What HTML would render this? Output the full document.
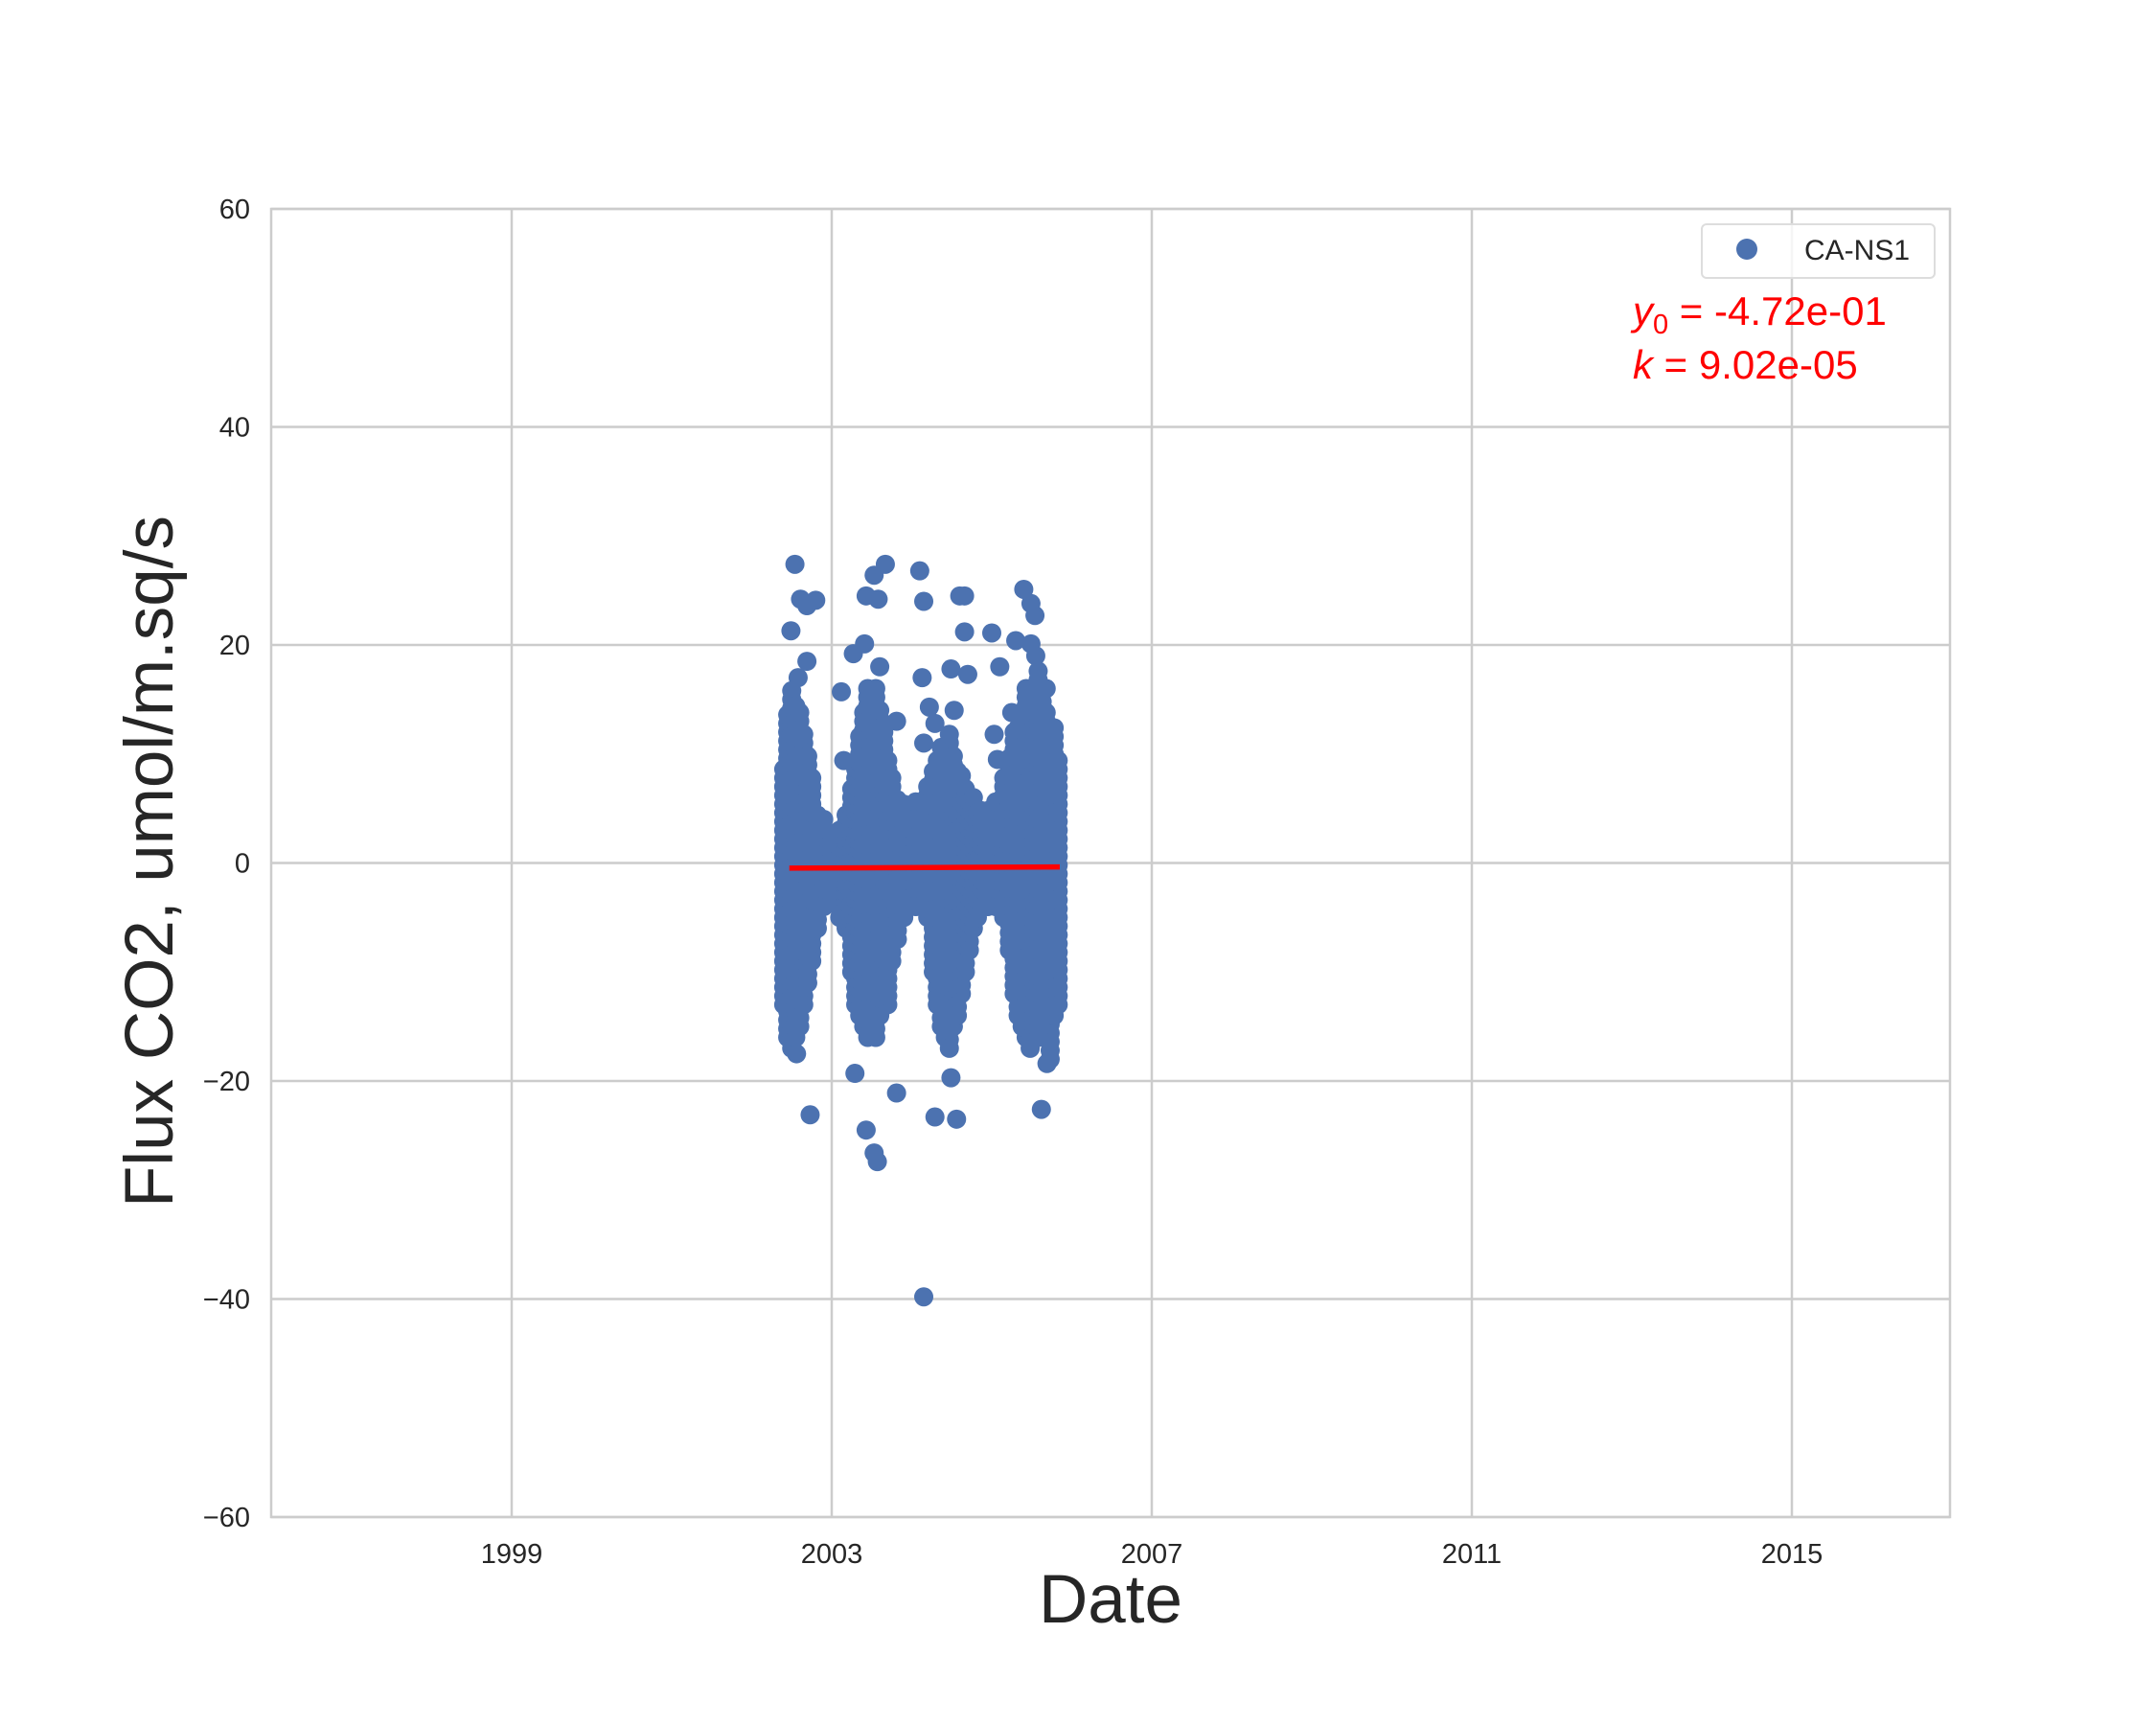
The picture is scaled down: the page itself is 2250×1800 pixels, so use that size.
<!DOCTYPE html>
<html><head><meta charset="utf-8"><style>
html,body{margin:0;padding:0;background:#fff;}
svg{display:block;font-family:"Liberation Sans",Arial,sans-serif;}
</style></head><body>
<svg id="chart" width="2250" height="1800" viewBox="0 0 2250 1800">
  <rect width="2250" height="1800" fill="#fff"/>
  <g id="grid"></g>
  <g id="ticks"></g>
  <g id="points"></g>
  <g id="fit"></g>
  <rect x="283" y="218" width="1752" height="1365" fill="none" stroke="#cccccc" stroke-width="2.5"/>
  <text x="1159" y="1693" font-size="71" fill="#262626" text-anchor="middle">Date</text>
  <text transform="translate(180,899) rotate(-90)" font-size="71" fill="#262626" text-anchor="middle">Flux CO2, umol/m.sq/s</text>
  <g>
    <rect x="1776" y="234" width="243" height="56" rx="5" fill="#fff" fill-opacity="0.8" stroke="#dddddd" stroke-width="2"/>
    <circle cx="1823" cy="260" r="11" fill="#4c72b0"/>
    <text x="1883" y="271" font-size="30" fill="#262626">CA-NS1</text>
  </g>
  <text x="1704" y="339" font-size="42" fill="#ff0000"><tspan font-style="italic">y</tspan><tspan font-size="29" dy="9">0</tspan><tspan dy="-9"> = -4.72e-01</tspan></text>
  <text x="1704" y="395" font-size="42" fill="#ff0000"><tspan font-style="italic">k</tspan> = 9.02e-05</text>
</svg>
<script>
const yTicks = [60, 40, 20, 0, -20, -40, -60];
const xTicks = [1999, 2003, 2007, 2011, 2015];
// dense band: column year, min value, max value
const colYears = [2002.40,2002.45,2002.50,2002.55,2002.60,2002.65,2002.70,2002.75,2002.82,2002.90,2003.00,2003.10,2003.18,2003.25,2003.30,2003.35,2003.40,2003.45,2003.50,2003.55,2003.60,2003.65,2003.70,2003.75,2003.82,2003.90,2003.97,2004.05,2004.12,2004.20,2004.27,2004.32,2004.37,2004.42,2004.47,2004.52,2004.57,2004.62,2004.67,2004.72,2004.77,2004.82,2004.87,2004.95,2005.05,2005.15,2005.22,2005.28,2005.33,2005.38,2005.43,2005.48,2005.53,2005.58,2005.63,2005.68,2005.73,2005.78,2005.83];
const colMin = [-13,-16,-17,-16,-15,-13,-11,-9,-6,-4,-3,-5,-6,-10,-13,-14,-15,-16,-15,-16,-14,-12,-13,-9,-7,-5,-4,-4,-4,-5,-10,-13,-15,-16,-17,-15,-14,-12,-10,-8,-6,-5,-4,-4,-4,-5,-8,-12,-14,-15,-16,-17,-15,-16,-14,-15,-18,-14,-13];
const colMax = [9,14,16,15,14,12,10,8,5,4,3,3,5,7,9,12,14,16,15,16,14,12,10,8,6,6,5,6,6,7,9,10,11,10,12,10,9,8,7,6,6,5,5,5,6,8,10,12,13,14,16,15,16,18,16,14,12,13,10];
// outliers
const outYears = [2002.54,2002.49,2002.61,2002.69,2002.80,2002.69,2003.12,2003.27,2003.41,2003.43,2003.53,2003.67,2003.58,2004.10,2004.15,2004.13,2004.60,2004.66,2004.66,2004.49,2004.70,2005.00,2005.10,2005.40,2005.49,2005.54,2005.30,2005.49,2005.68,2002.73,2003.29,2003.43,2003.53,2003.57,2003.81,2004.15,2004.29,2004.56,2004.49,2005.62,2005.69,2002.56,2005.03,2005.25,2004.29,2004.53,2003.81,2004.22,2004.15,2003.15,2005.07,2002.58,2003.60,2005.55];
const outVals = [27.4,21.3,24.2,23.6,24.1,18.5,15.7,19.2,20.1,24.5,26.4,27.4,24.2,26.8,24.0,17.0,24.5,24.5,21.2,17.8,17.3,21.1,18.0,25.1,23.8,22.7,20.4,20.1,16.0,-23.1,-19.3,-24.5,-26.6,-27.4,-21.1,-39.8,-23.3,-23.5,-19.7,-22.6,-18.4,-17.5,11.8,13.8,12.8,14.0,13.0,14.3,11.0,9.4,9.5,17.0,18.0,19.0];
const fitYears = [2002.47, 2005.85];
const y0 = -0.472, kSlope = 9.02e-05;

const NS = "http://www.w3.org/2000/svg";
const L = 283, R = 2035, T = 218, B = 1583;
const xs = yr => 868 + (yr - 2003) * (334 / 4);
const ys = v => T + (60 - v) * ((B - T) / 120);
function mk(tag, attrs, parent) { const e = document.createElementNS(NS, tag); for (const k in attrs) e.setAttribute(k, attrs[k]); parent.appendChild(e); return e; }

const grid = document.getElementById('grid'), ticks = document.getElementById('ticks');
yTicks.forEach(v => {
  const ln = mk('line', {x1: L, x2: R, y1: ys(v), y2: ys(v), stroke: '#cccccc', 'stroke-width': 2.5}, grid);
  
  
  const t = mk('text', {x: L - 22, y: ys(v) + 10, 'font-size': 29, fill: '#262626', 'text-anchor': 'end'}, ticks);
  t.textContent = v < 0 ? '\u2212' + Math.abs(v) : String(v);
  
  
});
xTicks.forEach(v => {
  const ln = mk('line', {x1: xs(v), x2: xs(v), y1: T, y2: B, stroke: '#cccccc', 'stroke-width': 2.5}, grid);
  
  
  const t = mk('text', {x: xs(v), y: B + 48, 'font-size': 29, fill: '#262626', 'text-anchor': 'middle'}, ticks);
  t.textContent = String(v);
  
  
});

const pts = document.getElementById('points');
colYears.forEach((yr, i) => {
  for (let v = colMin[i]; v <= colMax[i] + 0.01; v += 0.8) {
    const c = mk('circle', {cx: xs(yr), cy: ys(v), r: 10, fill: '#4c72b0'}, pts);
    
    
  }
});
outYears.forEach((yr, i) => {
  const c = mk('circle', {cx: xs(yr), cy: ys(outVals[i]), r: 10, fill: '#4c72b0'}, pts);
  
  
});

const fit = document.getElementById('fit');
const days = (fitYears[1] - fitYears[0]) * 365.25;
const fl = mk('line', {x1: xs(fitYears[0]), y1: ys(y0), x2: xs(fitYears[1]), y2: ys(y0 + kSlope * days), stroke: '#ff0000', 'stroke-width': 5.5}, fit);


</script>
</body></html>
